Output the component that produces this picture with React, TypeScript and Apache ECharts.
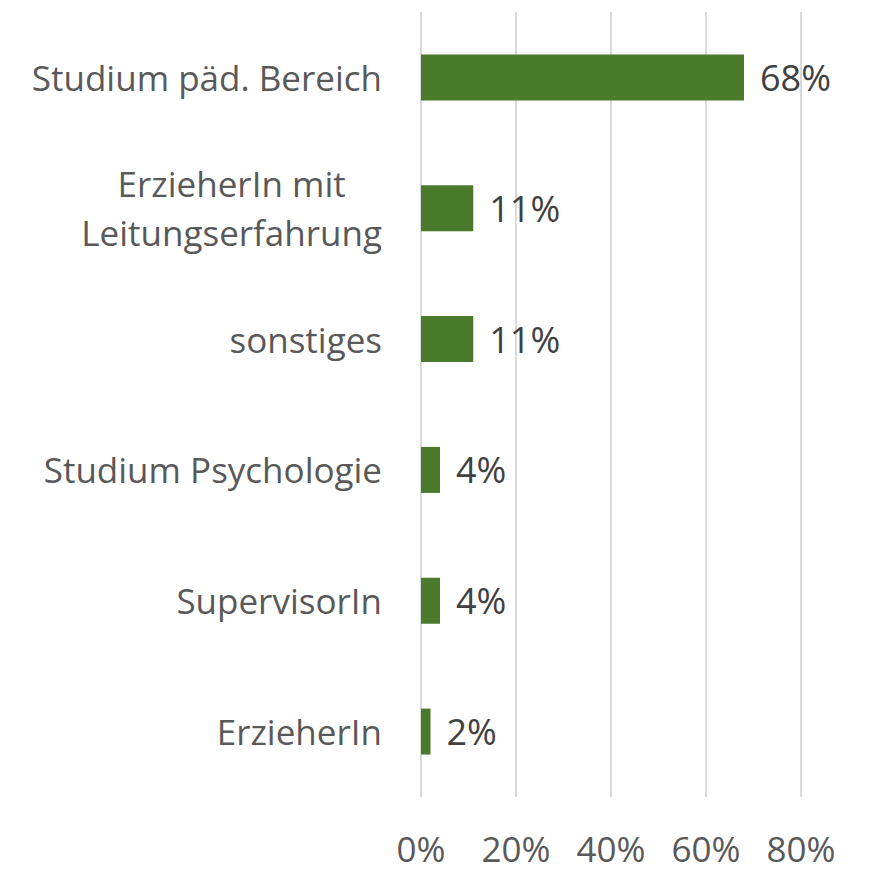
import React, { useEffect, useRef } from "react";
import * as echarts from "echarts";

const categories = [
  "Studium päd. Bereich",
  "ErzieherIn mit\nLeitungserfahrung",
  "sonstiges",
  "Studium Psychologie",
  "SupervisorIn",
  "ErzieherIn",
];
const values = [68, 11, 11, 4, 4, 2];
const xTicks = [0, 20, 40, 60, 80];

const FONT = "Open Sans";

export default function App() {
  const ref = useRef<HTMLDivElement>(null);
  useEffect(() => {
    if (!ref.current) return;
    const chart = echarts.init(ref.current, undefined, { renderer: "svg" });
    chart.setOption({
      animation: false,
      backgroundColor: "#ffffff",
      grid: { left: 421, right: 68, top: 12, bottom: 74, containLabel: false },
      xAxis: {
        type: "value",
        min: xTicks[0],
        max: xTicks[xTicks.length - 1],
        interval: 20,
        axisLine: { show: false },
        axisTick: { show: false },
        splitLine: { show: true, lineStyle: { color: "#d9d9d9", width: 2 } },
        axisLabel: {
          formatter: "{value}%",
          color: "#595959",
          fontFamily: FONT,
          fontSize: 35,
          margin: 34,
        },
      },
      yAxis: {
        type: "category",
        inverse: true,
        data: categories,
        axisLine: { show: false },
        axisTick: { show: false },
        axisLabel: {
          margin: 39,
          formatter: (v: string) =>
            v
              .split("\n")
              .map((l) => "{a|" + l + "}")
              .join("\n"),
          rich: {
            a: {
              color: "#595959",
              fontFamily: FONT,
              fontSize: 35,
              lineHeight: 49,
              align: "center",
            },
          },
        },
      },
      series: [
        {
          type: "bar",
          data: values,
          barWidth: 46,
          itemStyle: { color: "#4a7a2b" },
          label: {
            show: true,
            position: "right",
            distance: 16,
            formatter: "{c}%",
            color: "#404040",
            fontFamily: FONT,
            fontSize: 36,
          },
        },
      ],
    });
    return () => chart.dispose();
  }, []);
  return (
    <div
      ref={ref}
      style={{ position: "fixed", left: 0, top: 0, width: 869, height: 871 }}
    />
  );
}
